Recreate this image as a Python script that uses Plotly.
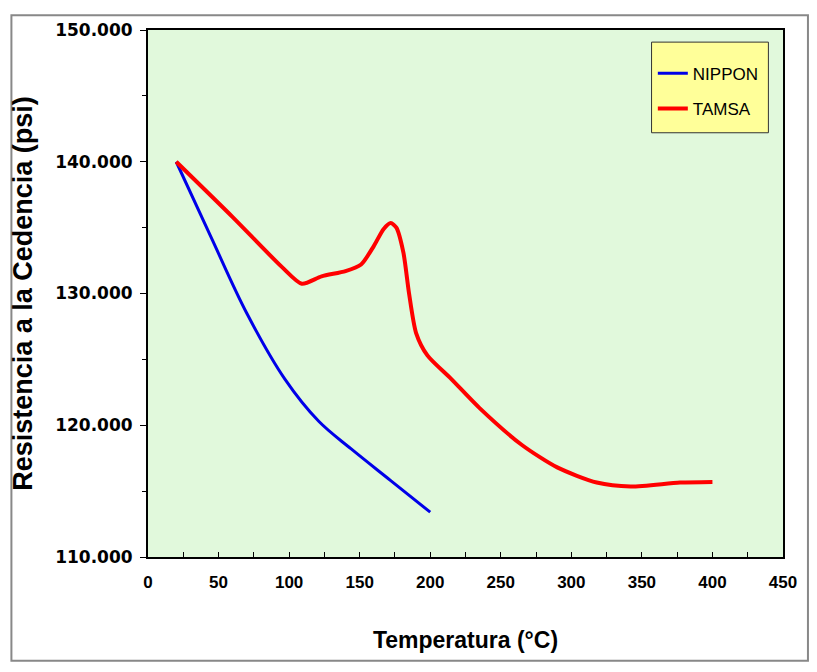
import plotly.graph_objects as go

# NIPPON series (temperature °C, yield strength psi)
nippon_t = [20, 45, 70, 97, 121, 144, 172, 200]
nippon_y = [140000, 134200, 128500, 123500, 120300, 118200, 115800, 113400]

# TAMSA series
tamsa_t = [20, 60, 95, 109, 123, 140, 151, 160, 167, 172, 176, 181, 185, 190, 198,
           215, 235, 265, 290, 318, 342, 377, 400]
tamsa_y = [140000, 135800, 132000, 130740, 131300, 131700, 132200, 133600, 134900,
           135350, 135000, 133100, 130000, 127000, 125300,
           123500, 121300, 118500, 116800, 115650, 115350, 115650, 115700]

x_ticks = [0, 50, 100, 150, 200, 250, 300, 350, 400, 450]
y_tickvals = [110000, 120000, 130000, 140000, 150000]
y_ticktext = ["110.000", "120.000", "130.000", "140.000", "150.000"]

fig = go.Figure()
fig.add_trace(go.Scatter(x=nippon_t, y=nippon_y, mode="lines", name="NIPPON",
                         line=dict(color="#0000E8", width=3, shape="spline", smoothing=1.0),
                         legendgroup="a"))
fig.add_trace(go.Scatter(x=tamsa_t, y=tamsa_y, mode="lines", name="TAMSA",
                         line=dict(color="#FF0000", width=4, shape="spline", smoothing=0.7),
                         legendgroup="b"))

fig.update_layout(
    width=801, height=656,
    margin=dict(l=137, r=26, t=12, b=107),
    paper_bgcolor="white",
    plot_bgcolor="#E1F9DC",
    showlegend=True,
    legend=dict(x=0.795, y=0.951, xanchor="left", yanchor="top",
                bgcolor="rgba(0,0,0,0)", borderwidth=0,
                font=dict(family="Liberation Sans, Arial", size=17, color="black"),
                traceorder="grouped", tracegroupgap=10, itemwidth=30),
    xaxis=dict(range=[0, 450], tickvals=x_ticks, ticks="inside", ticklen=5, tickcolor="black",
               showline=True, linecolor="black", linewidth=2, mirror=True,
               showgrid=False, zeroline=False, ticklabelstandoff=9,
               minor=dict(dtick=25, ticks="inside", ticklen=5, tickcolor="black"),
               tickfont=dict(family="Liberation Sans, Arial", size=17, color="black", weight="bold"),
               title=dict(text="Temperatura (°C)", standoff=40,
                          font=dict(family="Liberation Sans, Arial", size=23, color="black", weight="bold"))),
    yaxis=dict(range=[110000, 150000], tickvals=y_tickvals, ticktext=y_ticktext,
               ticks="outside", ticklen=6, tickcolor="black",
               showline=True, linecolor="black", linewidth=2, mirror=True,
               showgrid=False, zeroline=False, ticklabelstandoff=4,
               minor=dict(dtick=5000, ticks="outside", ticklen=4, tickcolor="black"),
               tickfont=dict(family="DejaVu Sans", size=17, color="black", weight="bold"),
               title=dict(text="Resistencia a la Cedencia (psi)", standoff=16,
                          font=dict(family="Liberation Sans, Arial", size=27, color="black", weight="bold"))),
    shapes=[
        dict(type="rect", xref="paper", yref="paper", x0=0.793, x1=0.977, y0=0.805, y1=0.977,
             fillcolor="#FFFF99", line=dict(color="#333333", width=1), layer="above"),
        dict(type="rect", xref="paper", yref="paper", x0=-0.2151, x1=1.0393, y0=-0.197, y1=1.0281,
             line=dict(color="#888888", width=2), fillcolor="rgba(0,0,0,0)"),
    ],
)

fig.write_html("out.html")
